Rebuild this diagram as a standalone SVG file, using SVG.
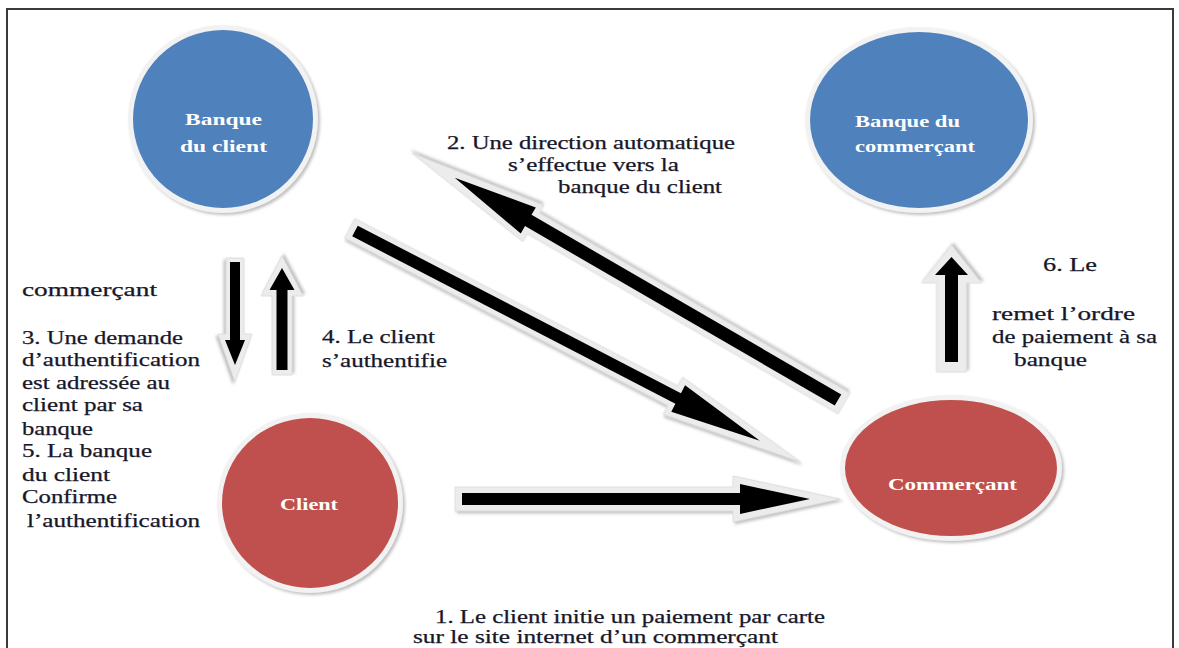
<svg xmlns="http://www.w3.org/2000/svg" width="1179" height="648" viewBox="0 0 1179 648" font-family="'Liberation Serif', 'DejaVu Serif', serif">
  <defs>
    <style>
      .t { font-family: 'Liberation Serif', 'DejaVu Serif', serif; font-size: 18px; fill: #17172a; stroke: #17172a; stroke-width: 0.25; }
      .lbl { font-family: 'Liberation Serif', 'DejaVu Serif', serif; font-size: 17px; font-weight: bold; fill: #ffffff; }
      .rim { fill: #f2f2f2; filter: url(#soft); }
      .blue { fill: #4f81bd; }
      .red { fill: #c0504d; }
      .halo { fill: #ececec; stroke: #dcdcdc; stroke-width: 0.8; filter: url(#soft); }
      .core { fill: #000000; }
    </style>
    <filter id="soft" x="-20%" y="-20%" width="140%" height="140%">
      <feDropShadow dx="2" dy="2" stdDeviation="1.6" flood-color="#8a8a8a" flood-opacity="0.55"/>
    </filter>
  </defs>

  <rect width="1179" height="648" fill="#ffffff"/>
  <!-- page frame -->
  <path d="M7,648 V9 H1173 V648" fill="none" stroke="#3a3a3a" stroke-width="2"/>

  <!-- connectors: block arrows -->
  <g id="connectors">
    <!-- 1: client to merchant -->
    <g transform="translate(462,499)">
      <polygon class="halo" points="-7,-12 271,-12 271,-23 378,0 271,23 271,12 -7,12"/>
      <polygon class="core" points="0,-6 278,-6 278,-15 348,0 278,15 278,6 0,6"/>
    </g>
    <!-- client bank to merchant -->
    <g transform="translate(355,231) rotate(27.4)">
      <polygon class="halo" points="-6,-11 358,-11 358,-21 502,0 358,21 358,11 -6,11"/>
      <polygon class="core" points="0,-6 364,-6 364,-15 456,0 364,15 364,6 0,6"/>
    </g>
    <!-- 2: merchant to client bank -->
    <g transform="translate(838,400) rotate(210.1)">
      <polygon class="halo" points="-7,-12 352,-12 352,-21 492,0 352,21 352,12 -7,12"/>
      <polygon class="core" points="0,-6.5 358,-6.5 358,-15 443,0 358,15 358,6.5 0,6.5"/>
    </g>
    <!-- 3: authentication request (down) -->
    <g transform="translate(235,262) rotate(90)">
      <polygon class="halo" points="-4,-9 72,-9 72,-17 120,0 72,17 72,9 -4,9"/>
      <polygon class="core" points="0,-5 78,-5 78,-10 103,0 78,10 78,5 0,5"/>
    </g>
    <!-- 4: client authenticates (up) -->
    <g transform="translate(282,370) rotate(-90)">
      <polygon class="halo" points="-5,-10 74,-10 74,-21 114,0 74,21 74,10 -5,10"/>
      <polygon class="core" points="0,-5.5 80,-5.5 80,-12.5 102,0 80,12.5 80,5.5 0,5.5"/>
    </g>
    <!-- 6: merchant to its bank (up) -->
    <g transform="translate(951.5,362) rotate(-90)">
      <polygon class="halo" points="-10,-15 79,-15 79,-30 117,0 79,30 79,15 -10,15"/>
      <polygon class="core" points="0,-6.5 87,-6.5 87,-16.5 105,0 87,16.5 87,6.5 0,6.5"/>
    </g>
  </g>

  <!-- nodes -->
  <g id="banque-client">
    <ellipse class="rim" cx="223" cy="119" rx="95" ry="94"/>
    <ellipse class="blue" cx="223" cy="119" rx="90" ry="89"/>
    <text class="lbl" x="185" y="125" textLength="77" lengthAdjust="spacingAndGlyphs">Banque</text>
    <text class="lbl" x="180" y="152" textLength="87" lengthAdjust="spacingAndGlyphs">du client</text>
  </g>

  <g id="banque-commercant">
    <ellipse class="rim" cx="919" cy="120" rx="114" ry="93"/>
    <ellipse class="blue" cx="919" cy="120" rx="109" ry="88"/>
    <text class="lbl" x="855" y="127" textLength="105" lengthAdjust="spacingAndGlyphs">Banque du</text>
    <text class="lbl" x="855" y="152" textLength="120" lengthAdjust="spacingAndGlyphs">commerçant</text>
  </g>

  <g id="client">
    <ellipse class="rim" cx="310" cy="503" rx="93" ry="90"/>
    <ellipse class="red" cx="310" cy="503" rx="88" ry="85"/>
    <text class="lbl" x="280" y="510" textLength="58" lengthAdjust="spacingAndGlyphs">Client</text>
  </g>

  <g id="commercant">
    <ellipse class="rim" cx="951" cy="468" rx="111" ry="73"/>
    <ellipse class="red" cx="951" cy="468" rx="106" ry="68"/>
    <text class="lbl" x="888" y="490" textLength="129" lengthAdjust="spacingAndGlyphs">Commerçant</text>
  </g>

  <!-- step labels -->
  <g id="labels">
    <text class="t" x="447" y="149" textLength="288" lengthAdjust="spacingAndGlyphs">2. Une direction automatique</text>
    <text class="t" x="508" y="171" textLength="171" lengthAdjust="spacingAndGlyphs">s’effectue vers la</text>
    <text class="t" x="558" y="193" textLength="164" lengthAdjust="spacingAndGlyphs">banque du client</text>

    <text class="t" x="22" y="296" textLength="135" lengthAdjust="spacingAndGlyphs">commerçant</text>
    <text class="t" x="22" y="344" textLength="161" lengthAdjust="spacingAndGlyphs">3. Une demande</text>
    <text class="t" x="22" y="366" textLength="178" lengthAdjust="spacingAndGlyphs">d’authentification</text>
    <text class="t" x="22" y="389" textLength="148" lengthAdjust="spacingAndGlyphs">est adressée au</text>
    <text class="t" x="22" y="411" textLength="121" lengthAdjust="spacingAndGlyphs">client par sa</text>
    <text class="t" x="22" y="435" textLength="71" lengthAdjust="spacingAndGlyphs">banque</text>
    <text class="t" x="22" y="457" textLength="130" lengthAdjust="spacingAndGlyphs">5. La banque</text>
    <text class="t" x="22" y="481" textLength="88" lengthAdjust="spacingAndGlyphs">du client</text>
    <text class="t" x="22" y="503" textLength="95" lengthAdjust="spacingAndGlyphs">Confirme</text>
    <text class="t" x="27" y="527" textLength="173" lengthAdjust="spacingAndGlyphs">l’authentification</text>

    <text class="t" x="322" y="343" textLength="113" lengthAdjust="spacingAndGlyphs">4. Le client</text>
    <text class="t" x="322" y="367" textLength="125" lengthAdjust="spacingAndGlyphs">s’authentifie</text>

    <text class="t" x="1043" y="271" font-size="20" textLength="54" lengthAdjust="spacingAndGlyphs">6. Le</text>
    <text class="t" x="992" y="320" textLength="143" lengthAdjust="spacingAndGlyphs">remet l’ordre</text>
    <text class="t" x="992" y="343" textLength="165" lengthAdjust="spacingAndGlyphs">de paiement à sa</text>
    <text class="t" x="1014" y="366" textLength="73" lengthAdjust="spacingAndGlyphs">banque</text>

    <text class="t" x="435" y="623" textLength="390" lengthAdjust="spacingAndGlyphs">1. Le client initie un paiement par carte</text>
    <text class="t" x="413" y="643" textLength="365" lengthAdjust="spacingAndGlyphs">sur le site internet d’un commerçant</text>
  </g>
</svg>
